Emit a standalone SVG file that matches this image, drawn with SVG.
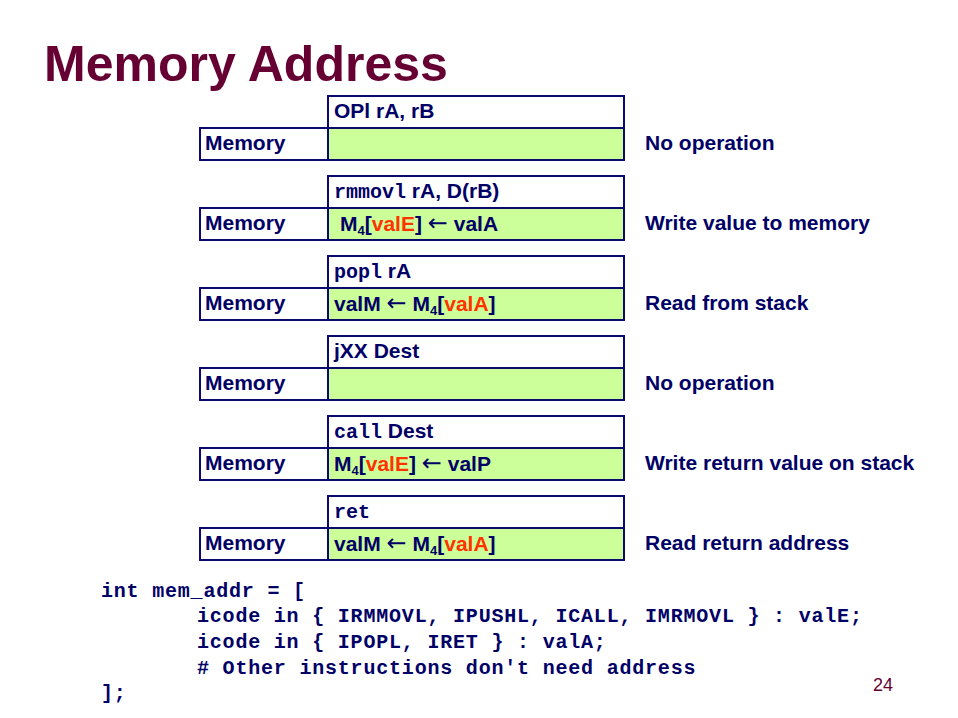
<svg xmlns="http://www.w3.org/2000/svg" width="958" height="718" viewBox="0 0 958 718">
<style>
.bg{fill:#ffffff}
.box{fill:#ffffff;stroke:#0a0a6e;stroke-width:2}
.grn{fill:#ccff99;stroke:#0a0a6e;stroke-width:2}
.t{font-family:"Liberation Sans",Arial,sans-serif;font-weight:bold;font-size:21px;fill:#000066}
.mono{font-family:"Liberation Mono","Courier New",monospace;font-weight:bold;font-size:20px}
.red{fill:#ff3300}
.sub{font-size:13px}
.arr{font-family:"DejaVu Sans",sans-serif;font-weight:normal;font-size:24px}
.title{font-family:"Liberation Sans",Arial,sans-serif;font-weight:bold;font-size:50px;fill:#660033}
.code{font-family:"Liberation Mono","Courier New",monospace;font-weight:bold;font-size:20px;letter-spacing:0.8px;fill:#000066;white-space:pre}
.pg{font-family:"Liberation Sans",Arial,sans-serif;font-size:18px;fill:#660033}
</style>
<rect class="bg" x="0" y="0" width="958" height="718"/>
<text class="title" x="44" y="81">Memory Address</text>
<g id="connectors"></g>

<g id="opl">
<rect class="box" x="328" y="96" width="296" height="32"/>
<rect class="box" x="200" y="128" width="128" height="32"/>
<rect class="grn" x="328" y="128" width="296" height="32"/>
<text class="t" x="334" y="118">OPl rA, rB</text>
<text class="t" x="205" y="150">Memory</text>
<text class="t" x="645" y="150">No operation</text>
</g>

<g id="rmmovl">
<rect class="box" x="328" y="176" width="296" height="32"/>
<rect class="box" x="200" y="208" width="128" height="32"/>
<rect class="grn" x="328" y="208" width="296" height="32"/>
<text class="t" x="334" y="198"><tspan class="mono">rmmovl</tspan> rA, D(rB)</text>
<text class="t" x="205" y="230">Memory</text>
<text class="t" x="340" y="231">M<tspan class="sub" dy="4">4</tspan><tspan dy="-4">[</tspan><tspan class="red">valE</tspan>] <tspan class="arr">←</tspan> valA</text>
<text class="t" x="645" y="230">Write value to memory</text>
</g>

<g id="popl">
<rect class="box" x="328" y="256" width="296" height="32"/>
<rect class="box" x="200" y="288" width="128" height="32"/>
<rect class="grn" x="328" y="288" width="296" height="32"/>
<text class="t" x="334" y="278"><tspan class="mono">popl</tspan> rA</text>
<text class="t" x="205" y="310">Memory</text>
<text class="t" x="334" y="311">valM <tspan class="arr">←</tspan> M<tspan class="sub" dy="4">4</tspan><tspan dy="-4">[</tspan><tspan class="red">valA</tspan>]</text>
<text class="t" x="645" y="310">Read from stack</text>
</g>

<g id="jxx">
<rect class="box" x="328" y="336" width="296" height="32"/>
<rect class="box" x="200" y="368" width="128" height="32"/>
<rect class="grn" x="328" y="368" width="296" height="32"/>
<text class="t" x="334" y="358">jXX Dest</text>
<text class="t" x="205" y="390">Memory</text>
<text class="t" x="645" y="390">No operation</text>
</g>

<g id="call">
<rect class="box" x="328" y="416" width="296" height="32"/>
<rect class="box" x="200" y="448" width="128" height="32"/>
<rect class="grn" x="328" y="448" width="296" height="32"/>
<text class="t" x="334" y="438"><tspan class="mono">call</tspan> Dest</text>
<text class="t" x="205" y="470">Memory</text>
<text class="t" x="334" y="471">M<tspan class="sub" dy="4">4</tspan><tspan dy="-4">[</tspan><tspan class="red">valE</tspan>] <tspan class="arr">←</tspan> valP</text>
<text class="t" x="645" y="470">Write return value on stack</text>
</g>

<g id="ret">
<rect class="box" x="328" y="496" width="296" height="32"/>
<rect class="box" x="200" y="528" width="128" height="32"/>
<rect class="grn" x="328" y="528" width="296" height="32"/>
<text class="t" x="334" y="518"><tspan class="mono">ret</tspan></text>
<text class="t" x="205" y="550">Memory</text>
<text class="t" x="334" y="551">valM <tspan class="arr">←</tspan> M<tspan class="sub" dy="4">4</tspan><tspan dy="-4">[</tspan><tspan class="red">valA</tspan>]</text>
<text class="t" x="645" y="550">Read return address</text>
</g>

<g id="code">
<text class="code" x="101" y="597">int mem_addr = [</text>
<text class="code" x="197" y="622">icode in { IRMMOVL, IPUSHL, ICALL, IMRMOVL } : valE;</text>
<text class="code" x="197" y="648">icode in { IPOPL, IRET } : valA;</text>
<text class="code" x="197" y="674"># Other instructions don't need address</text>
<text class="code" x="101" y="699">];</text>
</g>
<text class="pg" x="873" y="691">24</text>
</svg>
